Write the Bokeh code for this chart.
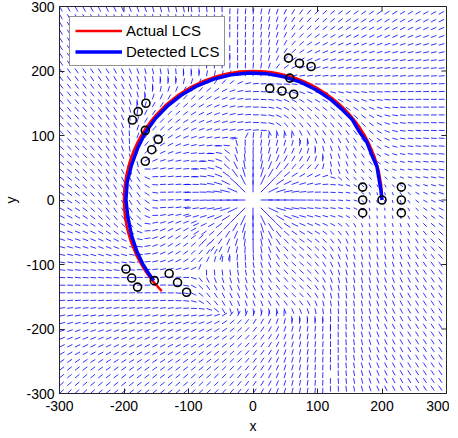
import numpy as np
from bokeh.plotting import figure
from bokeh.models import Range1d, FixedTicker, Legend, LegendItem
from bokeh.embed import file_html
from bokeh.resources import INLINE

# ---------------- data ----------------
x_ticks = [-300, -200, -100, 0, 100, 200, 300]
y_ticks = [-300, -200, -100, 0, 100, 200, 300]

# Actual LCS: circular arc (centre, radius, start/end angle in degrees)
lcs_cx = [0]
lcs_cy = [0]
lcs_radius = 200
lcs_start_deg = 0
lcs_end_deg = 225

# Detected LCS
det_x = [200.0, 198.5, 195.6, 192.2, 183.9, 176.4, 164.4, 153.9, 139.3, 121.3, 98.5, 73.8, 47.7, 20.6,
         -6.9, -34.2, -60.9, -86.4, -110.2, -131.8, -150.9, -167.1, -179.1, -188.4, -195.1, -197.0,
         -194.0, -188.0, -180.0, -171.0, -163.0, -154.0]
det_y = [0.0, 13.9, 31.0, 51.5, 70.6, 89.9, 106.7, 124.6, 139.3, 155.2, 170.6, 182.7, 191.1, 195.9,
         196.9, 194.0, 187.4, 177.1, 163.3, 146.4, 126.6, 104.4, 79.7, 54.0, 27.4, 0.0,
         -27.0, -56.0, -80.0, -99.0, -112.0, -125.0]

# Tracer markers
tracer_x = [170, 170, 170, 200, 230, 230, 230,
            55, 72, 90, 57, 26, 45, 63,
            -187, -178, -166, -167, -167, -157, -147,
            -197, -188, -179, -153, -130, -117, -103]
tracer_y = [20, 0, -20, 0, 20, 0, -20,
            220, 212, 207, 189, 173, 169, 164,
            124, 137, 150, 108, 60, 78, 94,
            -107, -121, -135, -125, -114, -128, -143]

# Vector field orientation (degrees, mod 180) read on a coarse grid
field_x = [-280, -210, -140, -70, 0, 70, 140, 210, 280]
field_y = [280, 210, 140, 70, 0, -70, -140, -210, -280]
field_angle = [
    [120, 115, 105, 95, 80, 55, 40, 35, 30],
    [125, 120, 105, 95, 90, 30, 12, 8, 5],
    [132, 128, 50, 22, 0, 120, 135, 0, 0],
    [140, 122, 15, 175, 90, 60, 100, 175, 175],
    [150, 130, 0, 0, None, 0, 0, 90, 160],
    [165, 155, 40, 50, 90, 145, 110, 100, 133],
    [0, 0, 175, 125, 115, 150, 90, 115, 125],
    [20, 20, 25, 25, 45, 75, 90, 120, 125],
    [45, 40, 40, 45, 55, 80, 95, 120, 125],
]
extra_x = [0, 88, -88, 0, -115, 115, -200, 173, -173]
extra_y = [175, 152, 152, 235, 199, 199, 0, 100, 100]
extra_angle = [0, 150, 30, 90, 100, 20, 90, 120, 60]

# ---------------- figure ----------------
FONT = "Liberation Sans"
AX = "#262626"

p = figure(frame_width=387, frame_height=387, x_range=Range1d(-300, 300), y_range=Range1d(-300, 300),
           output_backend="svg", toolbar_location=None,
           min_border_left=52, min_border_right=3, min_border_top=6, min_border_bottom=42)
p.xgrid.visible = False
p.ygrid.visible = False
p.outline_line_color = AX
p.outline_line_width = 1
p.background_fill_color = "white"
p.border_fill_color = "white"

for ax, ticks, lab in ((p.xaxis[0], x_ticks, "x"), (p.yaxis[0], y_ticks, "y")):
    ax.ticker = FixedTicker(ticks=ticks)
    ax.major_label_overrides = {t: str(t) for t in ticks}
    ax.axis_label = lab
    ax.axis_label_text_font = FONT
    ax.axis_label_text_font_size = "14px"
    ax.axis_label_text_font_style = "normal"
    ax.axis_label_text_color = "black"
    ax.major_label_text_font = FONT
    ax.major_label_text_font_size = "14px"
    ax.major_label_text_color = "black"
    ax.major_tick_in = 5
    ax.major_tick_out = 0
    ax.minor_tick_line_color = None
    ax.axis_line_color = AX
    ax.major_tick_line_color = AX
p.xaxis.major_label_standoff = 7
p.xaxis.axis_label_standoff = 4
p.yaxis.major_label_standoff = 5
p.yaxis.axis_label_standoff = 4

# mirrored inward ticks on top and right edges (from the tick lists)
tick_len = 8.0
xr = (-300, 300)
yr = (-300, 300)
p.segment(x0=x_ticks, y0=[yr[1]] * len(x_ticks), x1=x_ticks, y1=[yr[1] - tick_len] * len(x_ticks),
          line_color=AX, line_width=1)
p.segment(x0=[xr[1]] * len(y_ticks), y0=y_ticks, x1=[xr[1] - tick_len] * len(y_ticks), y1=y_ticks,
          line_color=AX, line_width=1)

# ---------------- quiver field ----------------
gx = np.arange(-300, 301, 12.0)
GX, GY = np.meshgrid(gx, gx)
C = np.zeros_like(GX)
S = np.zeros_like(GX)
sig = 38.0
ctrl = []
for j, yy in enumerate(field_y):
    for i, xx in enumerate(field_x):
        a = field_angle[j][i]
        if a is not None:
            ctrl.append((xx, yy, a))
for xx, yy, a in zip(extra_x, extra_y, extra_angle):
    ctrl.append((xx, yy, a))
for xx, yy, a in ctrl:
    w = np.exp(-((GX - xx) ** 2 + (GY - yy) ** 2) / (2 * sig ** 2))
    C += w * np.cos(np.radians(2 * a))
    S += w * np.sin(np.radians(2 * a))
R = np.hypot(GX, GY)
TH = np.arctan2(GY, GX)
ws = 3.0 * np.exp(-(R / 60.0) ** 2)
C += ws * np.cos(2 * TH)
S += ws * np.sin(2 * TH)
ang = 0.5 * np.arctan2(S, C)
dx = np.cos(ang)
dy = np.sin(ang)
flip = (dx * GX + dy * GY) < 0
dx = np.where(flip & (R < 100), -dx, dx)
dy = np.where(flip & (R < 100), -dy, dy)
L = 9.0 + 10.0 * np.exp(-(R / 55.0) ** 2)
L *= 1 - 0.5 * np.exp(-((GX - 200) ** 2 + GY ** 2) / (2 * 45.0 ** 2))
keep = R > 1
x0 = GX[keep]
y0 = GY[keep]
x1 = x0 + (L * dx)[keep]
y1 = y0 + (L * dy)[keep]
p.segment(x0=x0, y0=y0, x1=x1, y1=y1, line_color="#0000ff", line_width=1, line_alpha=0.8)

# ---------------- LCS lines & markers ----------------
r_act = p.arc(x=lcs_cx, y=lcs_cy, radius=lcs_radius,
              start_angle=np.radians(lcs_start_deg), end_angle=np.radians(lcs_end_deg),
              line_color="#ff0000", line_width=2.5)
r_det = p.line(det_x, det_y, line_color="#0000ff", line_width=3.5)
p.scatter(tracer_x, tracer_y, marker="circle", size=8, fill_color=None,
          line_color="black", line_width=1.6)

legend = Legend(items=[LegendItem(label="Actual LCS", renderers=[r_act]),
                       LegendItem(label="Detected LCS", renderers=[r_det])],
                location="top_left", margin=10, padding=5, spacing=4,
                glyph_width=47, glyph_height=17, label_height=17, label_standoff=4,
                label_text_font=FONT, label_text_font_size="15px", label_text_color="black",
                border_line_color=AX, border_line_width=1,
                background_fill_color="white", background_fill_alpha=1.0)
p.add_layout(legend)

open("out.html", "w").write(file_html(p, INLINE))
